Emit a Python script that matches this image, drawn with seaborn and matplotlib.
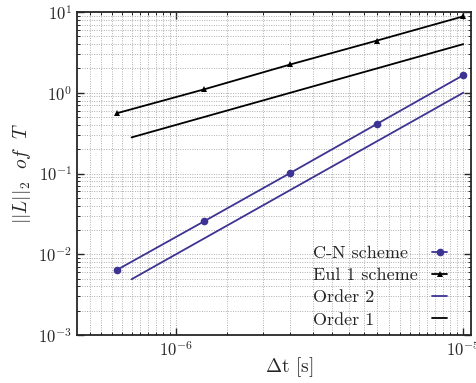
import numpy as np
import pandas as pd
import seaborn as sns
import matplotlib
matplotlib.use("Agg")
import matplotlib.pyplot as plt
from matplotlib.ticker import LogLocator, NullFormatter

# Time steps and error norms
dt = [6.25e-7, 1.25e-6, 2.5e-6, 5e-6, 1e-5]
err_cn = [0.00645, 0.0255, 0.1016, 0.41, 1.65]
err_eul = [0.56, 1.10, 2.24, 4.42, 8.83]

# Reference slopes
dt_ref = [7e-7, 1e-5]
ref_order2 = [0.0049, 1.0]
ref_order1 = [0.28, 4.0]

purple = "#3d3393"

sns.set_style("ticks")
plt.rcParams["font.family"] = ["cmr10", "DejaVu Serif"]
plt.rcParams["mathtext.fontset"] = "cm"
plt.rcParams["axes.formatter.use_mathtext"] = True
plt.rcParams["axes.unicode_minus"] = False

fig = plt.figure(figsize=(4.76, 3.83), dpi=100)
ax = fig.add_axes([77 / 476, 1 - 335 / 383, (471 - 77) / 476, (335 - 12) / 383])

df_cn = pd.DataFrame({"dt": dt, "err": err_cn})
df_eul = pd.DataFrame({"dt": dt, "err": err_eul})
df_o2 = pd.DataFrame({"dt": dt_ref, "err": ref_order2})
df_o1 = pd.DataFrame({"dt": dt_ref, "err": ref_order1})

lw = 1.3
sns.lineplot(data=df_cn, x="dt", y="err", ax=ax, color=purple, marker="o",
             markersize=5.5, markeredgewidth=0, linewidth=lw, label="C-N scheme")
sns.lineplot(data=df_eul, x="dt", y="err", ax=ax, color="black", marker="^",
             markersize=5, markeredgewidth=0, linewidth=lw, label="Eul 1 scheme")
sns.lineplot(data=df_o2, x="dt", y="err", ax=ax, color=purple,
             linewidth=lw, label="Order 2")
sns.lineplot(data=df_o1, x="dt", y="err", ax=ax, color="black",
             linewidth=lw, label="Order 1")

ax.set_xscale("log")
ax.set_yscale("log")
ax.set_xlim(4.52e-7, 1.064e-5)
ax.set_ylim(1e-3, 1e1)

ax.xaxis.set_major_locator(LogLocator(base=10, numticks=10))
ax.xaxis.set_minor_locator(LogLocator(base=10, subs=np.arange(1.0, 10.0, 0.5), numticks=40))
ax.xaxis.set_minor_formatter(NullFormatter())
ax.yaxis.set_major_locator(LogLocator(base=10, numticks=10))
ax.yaxis.set_minor_locator(LogLocator(base=10, subs=np.arange(2, 10), numticks=40))
ax.yaxis.set_minor_formatter(NullFormatter())

ax.grid(True, which="both", linestyle=":", color="#a4a4a4", linewidth=0.65)
ax.tick_params(which="both", direction="in", top=True, right=True, labelsize=12)
ax.tick_params(which="major", length=5, width=1.0)
ax.tick_params(which="minor", length=2.5, width=0.7)
for s in ax.spines.values():
    s.set_linewidth(1.3)

ax.set_xlabel(r"$\Delta$t [s]", fontsize=14)
ax.set_ylabel(r"$||L||_2\ \ of\ \ T$", fontsize=14)
ax.xaxis.set_label_coords(0.538, -0.1, transform=ax.transAxes)
ax.yaxis.set_label_coords(-0.14, 0.5, transform=ax.transAxes)
ax.xaxis.label.set_va("center")
ax.yaxis.label.set_va("center")

leg = ax.legend(loc="lower right", frameon=False, markerfirst=False, fontsize=13,
                handlelength=0.8, handletextpad=0.8, labelspacing=0.37,
                borderaxespad=0.0, bbox_to_anchor=(0.957, 0.0))

# Left-align legend labels while keeping the handles in one right-hand column
fig.canvas.draw()
renderer = fig.canvas.get_renderer()
for column in leg._legend_handle_box.get_children():
    rows = column.get_children()
    widest = max(r.get_bbox(renderer).width for r in rows)
    for r in rows:
        r.mode = "expand"
        r.width = widest
    column.align = "left"

fig.savefig("out.png", dpi=100)
